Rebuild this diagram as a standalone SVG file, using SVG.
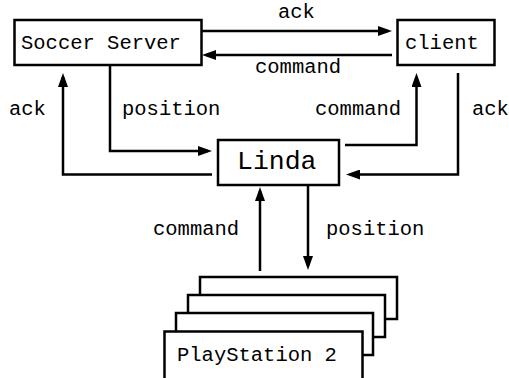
<svg xmlns="http://www.w3.org/2000/svg" width="509" height="378" viewBox="0 0 509 378">
<defs>
<marker id="ah" markerWidth="14" markerHeight="10" refX="10" refY="5" orient="auto" markerUnits="userSpaceOnUse">
<path d="M0,0 L14,5 L0,10 z" fill="#000"/>
</marker>
<style>
.box{fill:#fff;stroke:#000;stroke-width:2.5}
.t{font-family:"Liberation Mono","DejaVu Sans Mono",monospace;font-size:20.5px;fill:#000}
.big{font-size:26.5px}
.c{fill:none;stroke:#000;stroke-width:2.5;marker-end:url(#ah)}
</style>
</defs>
<rect width="509" height="378" fill="#fff"/>
<g id="connectors">
<path class="c" d="M202,31 H388"/>
<path class="c" d="M392,55 H206"/>
<path class="c" d="M212,174.5 H63 V77"/>
<path class="c" d="M110,66 V151 H208"/>
<path class="c" d="M345,145 H416.5 V77"/>
<path class="c" d="M458,73 V174.5 H350"/>
<path class="c" d="M260,271 V191"/>
<path class="c" d="M308,186 V266"/>
<text class="t" x="278" y="18">ack</text>
<text class="t" x="255" y="72.5">command</text>
<text class="t" x="9" y="115">ack</text>
<text class="t" x="122" y="115">position</text>
<text class="t" x="315" y="115">command</text>
<text class="t" x="472" y="115">ack</text>
<text class="t" x="153" y="235">command</text>
<text class="t" x="326" y="235">position</text>
</g>
<g id="soccer-server">
<rect class="box" x="14.5" y="20" width="187" height="45"/>
<text class="t" x="21" y="49">Soccer Server</text>
</g>
<g id="client">
<rect class="box" x="397.5" y="20" width="97" height="45"/>
<text class="t" x="405" y="49">client</text>
</g>
<g id="linda">
<rect class="box" x="218" y="140" width="121" height="45"/>
<text class="t big" x="237" y="169">Linda</text>
</g>
<g id="playstation-2">
<rect class="box" x="200" y="277" width="197" height="42"/>
<rect class="box" x="188" y="295" width="197" height="42"/>
<rect class="box" x="176" y="313" width="197" height="42"/>
<rect class="box" x="164.5" y="331.5" width="198" height="60"/>
<text class="t" x="177" y="361">PlayStation 2</text>
</g>
</svg>
